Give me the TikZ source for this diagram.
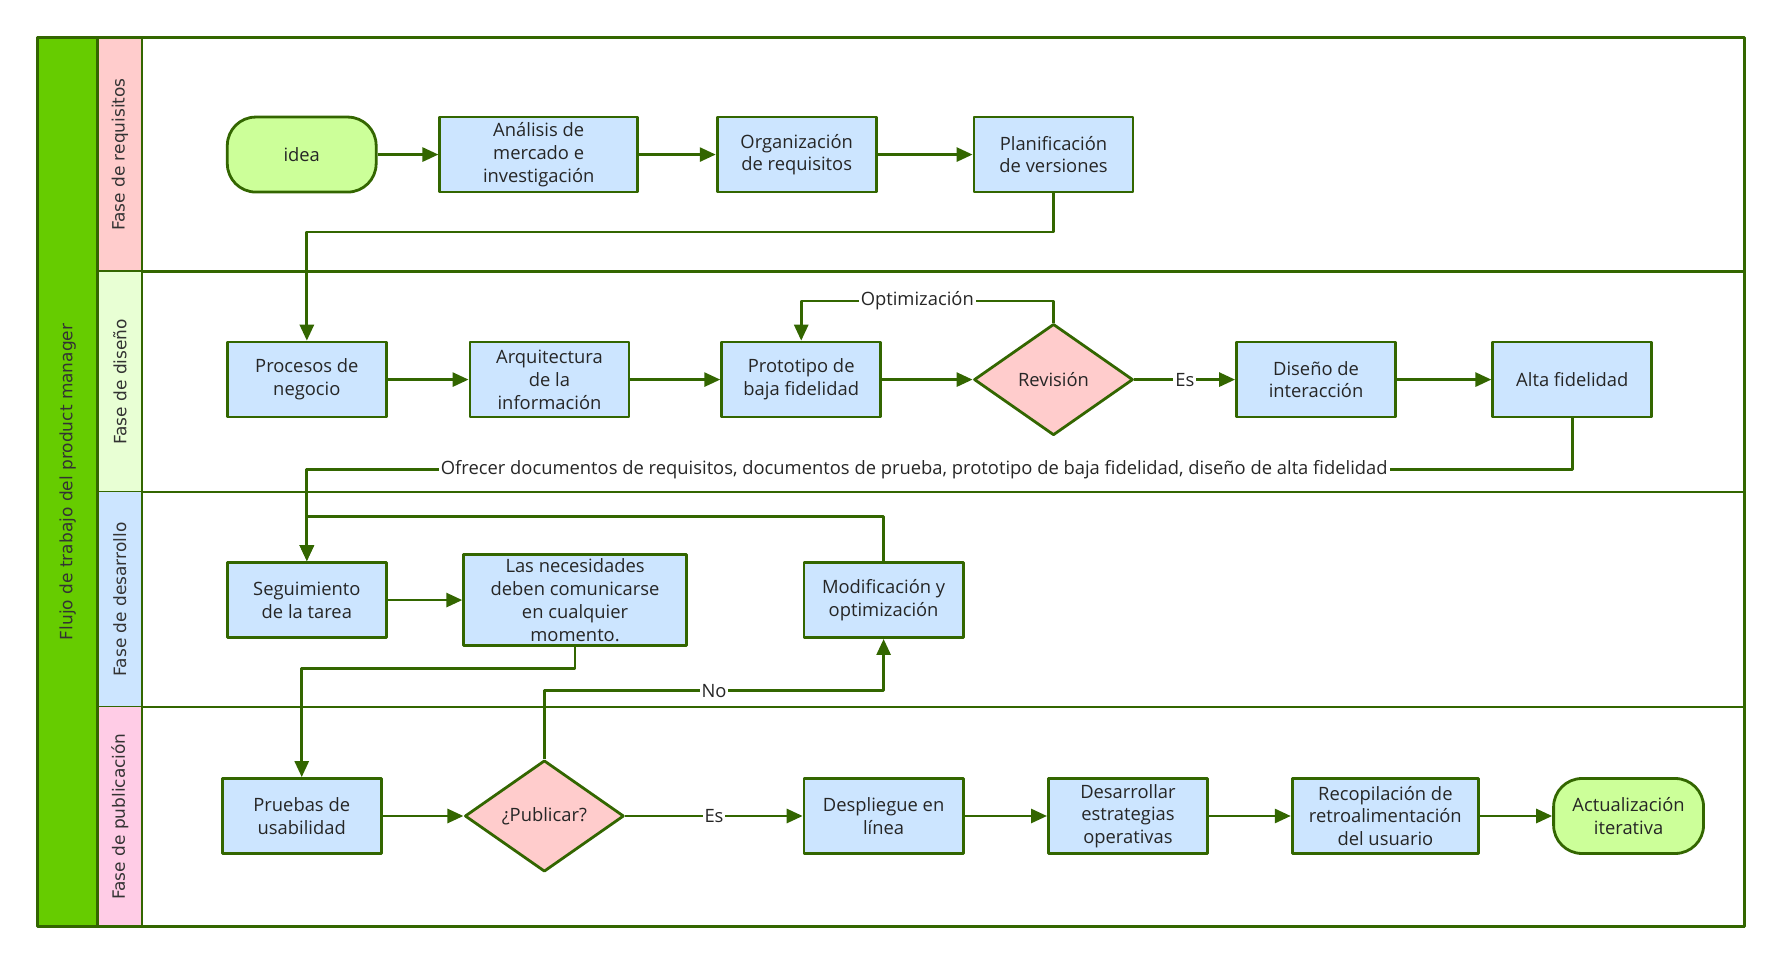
\documentclass[tikz,border=0pt]{standalone}
\usepackage{fontspec}
\setmainfont{Open Sans}
\newfontfamily\lanefont{DejaVu Sans}
\usetikzlibrary{arrows.meta,positioning,shapes.geometric}
\definecolor{edgegreen}{HTML}{336600}
\definecolor{boxblue}{HTML}{CCE5FF}
\definecolor{decpink}{HTML}{FFCCCC}
\definecolor{termgreen}{HTML}{CCFF99}
\definecolor{titlegreen}{HTML}{66CC00}
\definecolor{lanered}{HTML}{FFCCCC}
\definecolor{lanegreen}{HTML}{E8FFD4}
\definecolor{laneblue}{HTML}{CCE5FF}
\definecolor{lanepink}{HTML}{FFCCE6}
\tikzset{
  base/.style={%
    draw=edgegreen,line width=1.4pt,align=center,
    text=black!85,inner sep=2pt,
    font=\fontsize{9.2}{11.4}\selectfont,
  },
  procbox/.style={%
    base,fill=boxblue,
    minimum width=2.8cm,
    minimum height=1.32cm,
  },
  decision/.style={%
    base,diamond,fill=decpink,
    minimum width=2.8cm,
    minimum height=1.96cm,
    inner sep=0pt
  },
  terminal/.style={%
    base,fill=termgreen,
    rounded corners=0.5cm,
    minimum width=2.62cm,
    minimum height=1.32cm,
  },
  flow/.style={%
    draw=edgegreen,line width=1.4pt,
    -{Triangle[length=8pt,width=7pt]}
  },
  flowlabel/.style={%
    fill=white,inner sep=1pt,text=black!85,
    font=\fontsize{9.2}{11.4}\selectfont
  },
  lanetitle/.style={%
    rotate=90,text=black!80,
    font=\lanefont\fontsize{8.5}{10}\selectfont
  },
  frame/.style={draw=edgegreen,line width=1.4pt}
}
\begin{document}
\begin{tikzpicture}[x=0.02cm,y=-0.02cm,line join=round]
\useasboundingbox (0,0) rectangle (1568,848);
% pool and lanes
\fill[titlegreen] (33,33) rectangle (86,815);
\node[lanetitle] (pool) at (59.5,424) {Flujo de trabajo del product manager};
\foreach \ya/\yb/\col/\txt [count=\i] in {%
    33/239/lanered/Fase de requisitos,
    239/433/lanegreen/Fase de diseño,
    433/622/laneblue/Fase de desarrollo,
    622/815/lanepink/Fase de publicación} {
  \fill[\col] (86,\ya) rectangle (125,\yb);
  \node[lanetitle] (lane\i) at (105.5,{(\ya+\yb)/2}) {\txt};
  \draw[frame] (86,\yb) -- (1535,\yb);
}
\draw[frame] (33,33) rectangle (1535,815);
\draw[frame] (86,33) -- (86,815) (125,33) -- (125,815);

% Fase de requisitos
\node[terminal] (idea) at (265.5,136) {idea};
\node[procbox,minimum width=3.48cm] (analisis) at (474,136) {Análisis de\\mercado e\\investigación};
\node[procbox] (organizacion) at (701,136) {Organización\\de requisitos};
\node[procbox] (planificacion) at (927,136) {Planificación\\de versiones};

% Fase de diseño
\node[procbox] (procesos) at (270,334) {Procesos de\\negocio};
\node[procbox] (arquitectura) at (483.5,334) {Arquitectura\\de la\\información};
\node[procbox] (prototipo) at (705,334) {Prototipo de\\baja fidelidad};
\node[decision] (revision) at (927,334) {Revisión};
\node[procbox] (diseno) at (1158,334) {Diseño de\\interacción};
\node[procbox] (alta) at (1383.5,334) {Alta fidelidad};

% Fase de desarrollo
\node[procbox] (seguimiento) at (270,528) {Seguimiento\\de la tarea};
\node[procbox,minimum width=3.92cm,minimum height=1.6cm] (necesidades) at (506,528) {Las necesidades\\deben comunicarse\\en cualquier\\momento.};
\node[procbox] (modificacion) at (777.5,528) {Modificación y\\optimización};

% Fase de publicación
\node[procbox] (pruebas) at (265.5,718) {Pruebas de\\usabilidad};
\node[decision] (publicar) at (479,718) {¿Publicar?};
\node[procbox] (despliegue) at (777.5,718) {Despliegue en\\línea};
\node[procbox] (desarrollar) at (992.5,718) {Desarrollar\\estrategias\\operativas};
\node[procbox,minimum width=3.28cm] (recopilacion) at (1219,718) {Recopilación de\\retroalimentación\\del usuario};
\node[terminal,minimum width=2.64cm] (actualizacion) at (1433,718) {Actualización\\iterativa};

% connectors
\draw[flow] (idea) -- (analisis);
\draw[flow] (analisis) -- (organizacion);
\draw[flow] (organizacion) -- (planificacion);
\draw[flow] (planificacion.south) -- ++(0,34) -| (procesos.north);
\draw[flow] (procesos) -- (arquitectura);
\draw[flow] (arquitectura) -- (prototipo);
\draw[flow] (prototipo) -- (revision);
\draw[flow] (revision.north) -- ++(0,-19) -| node[flowlabel,pos=0.27] {Optimización} (prototipo.north);
\draw[flow] (revision) -- node[flowlabel] {Es} (diseno);
\draw[flow] (diseno) -- (alta);
\draw[flow] (alta.south) -- ++(0,45) -| node[flowlabel,pos=0.26] {Ofrecer documentos de requisitos, documentos de prueba, prototipo de baja fidelidad, diseño de alta fidelidad} (seguimiento.north);
\draw[flow] (modificacion.north) -- ++(0,-39) -| (seguimiento.north);
\draw[flow] (seguimiento) -- (necesidades);
\draw[flow] (necesidades.south) -- ++(0,19) -| (pruebas.north);
\draw[flow] (pruebas) -- (publicar);
\draw[flow] (publicar) -- node[flowlabel] {Es} (despliegue);
\draw[flow] (publicar.north) -- ++(0,-60) -| node[flowlabel,pos=0.25] {No} (modificacion.south);
\draw[flow] (despliegue) -- (desarrollar);
\draw[flow] (desarrollar) -- (recopilacion);
\draw[flow] (recopilacion) -- (actualizacion);
\end{tikzpicture}
\end{document}
